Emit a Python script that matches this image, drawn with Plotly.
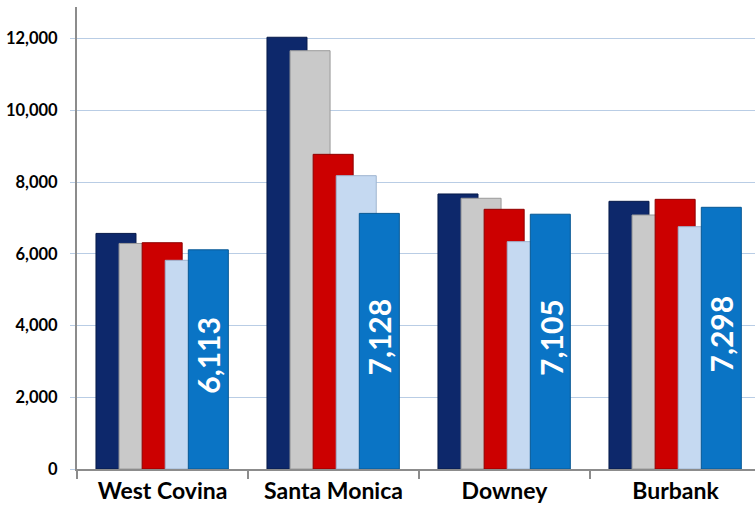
import plotly.graph_objects as go

# data
cities = ["West Covina", "Santa Monica", "Downey", "Burbank"]
series_1 = [6570, 12040, 7670, 7465]
series_2 = [6290, 11665, 7550, 7083]
series_3 = [6310, 8775, 7242, 7520]
series_4 = [5820, 8180, 6340, 6757]
series_5 = [6113, 7128, 7105, 7298]
y_ticks = [0, 2000, 4000, 6000, 8000, 10000, 12000]

FONT = "Lato"
series = [series_1, series_2, series_3, series_4, series_5]
names = ["Series 1", "Series 2", "Series 3", "Series 4", "Series 5"]
colours = ["#0d286b", "#c9c9c9", "#cc0000", "#c5d9f1", "#0a74c5"]
edges = ["#071a4a", "#9a9a9a", "#8f0000", "#9fb5d0", "#075894"]
bar_w = 0.234  # bars overlap, like the excel chart
offsets = [-0.389, -0.254, -0.119, 0.016, 0.151]

fig = go.Figure()
for vals, name, col, edge, off in zip(series, names, colours, edges, offsets):
    fig.add_trace(go.Bar(
        x=cities,
        y=vals,
        name=name,
        width=bar_w,
        offset=off,
        marker=dict(color=col, line=dict(color=edge, width=1)),
    ))

# rotated value labels centred inside the last bar of each group
for i, v in enumerate(series_5):
    fig.add_annotation(
        x=i + offsets[4] + bar_w / 2,
        y=v / 2,
        yshift=4,
        text=f"{v:,}",
        textangle=-90,
        showarrow=False,
        font=dict(family=FONT, size=30, color="white", weight="bold"),
    )

fig.update_layout(
    barmode="overlay",
    width=755,
    height=516,
    margin=dict(l=77, r=0, t=7, b=47),
    paper_bgcolor="white",
    plot_bgcolor="white",
    showlegend=False,
    font=dict(family=FONT, color="black"),
    xaxis=dict(
        range=[-0.5, 3.465],
        showline=True,
        linecolor="#8c8c8c",
        linewidth=2,
        ticks="outside",
        tickson="boundaries",
        ticklen=8,
        tickcolor="#8c8c8c",
        tickwidth=2,
        tickfont=dict(family=FONT, size=23, weight="bold"),
        showgrid=False,
    ),
    yaxis=dict(
        range=[0, 12884],
        tickvals=y_ticks,
        tickformat=",",
        showline=True,
        linecolor="#8c8c8c",
        linewidth=2,
        ticks="outside",
        ticklen=5,
        tickcolor="#b9cde5",
        ticklabelstandoff=9,
        tickfont=dict(family=FONT, size=16.5, weight="bold"),
        showgrid=True,
        gridcolor="#b9cde5",
        gridwidth=1,
        zeroline=False,
    ),
)

# the page has a default 8px body margin; drop it so the chart sits at 0,0
fig.write_html("out.html", config={"displayModeBar": False},
               post_script="document.body.style.margin='0';")
